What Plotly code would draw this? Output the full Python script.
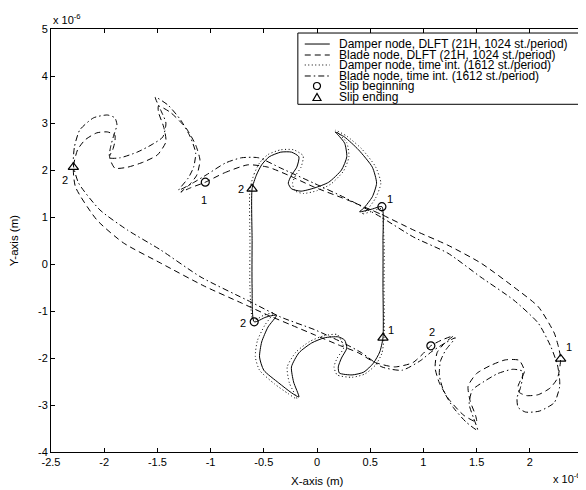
import plotly.graph_objects as go

# ---------------- data (units of 1e-6 m) ----------------
# Damper node, DLFT (solid)
damper_dlft_x = [-0.61, -0.57, -0.52, -0.45, -0.34, -0.24, -0.17, -0.19, -0.24, -0.27, -0.24, -0.15, -0.02,
                 0.11, 0.23, 0.28, 0.26, 0.20, 0.17, 0.26, 0.39, 0.52, 0.56, 0.52, 0.44, 0.40, 0.52, 0.61,
                 0.62, 0.62, 0.62, 0.59, 0.53, 0.44, 0.33, 0.21, 0.20, 0.23, 0.28, 0.26, 0.20, 0.07, -0.05,
                 -0.17, -0.24, -0.22, -0.17, -0.24, -0.36, -0.50, -0.54, -0.52, -0.46, -0.38, -0.48, -0.59,
                 -0.61, -0.61, -0.61]
damper_dlft_y = [1.60, 1.89, 2.11, 2.28, 2.38, 2.38, 2.28, 2.06, 1.89, 1.72, 1.60, 1.55, 1.62,
                 1.74, 2.00, 2.28, 2.57, 2.74, 2.81, 2.70, 2.43, 2.06, 1.72, 1.43, 1.19, 1.11, 1.17, 1.22,
                 0.50, -0.50, -1.57, -1.87, -2.11, -2.30, -2.36, -2.32, -2.19, -2.00, -1.79, -1.62, -1.55, -1.57, -1.68,
                 -1.89, -2.19, -2.51, -2.83, -2.74, -2.53, -2.26, -1.98, -1.66, -1.34, -1.09, -1.13, -1.23,
                 -0.50, 0.50, 1.60]

# Damper node, time integration (dotted)
damper_ti_x = [-0.63, -0.59, -0.54, -0.46, -0.34, -0.22, -0.13, -0.15, -0.20, -0.23, -0.21, -0.13, 0.00,
               0.13, 0.25, 0.30, 0.28, 0.20, 0.17, 0.28, 0.42, 0.55, 0.60, 0.55, 0.47, 0.42, 0.53, 0.60,
               0.63, 0.63, 0.63, 0.61, 0.55, 0.45, 0.33, 0.19, 0.16, 0.19, 0.25, 0.23, 0.19, 0.06, -0.07,
               -0.20, -0.28, -0.26, -0.19, -0.27, -0.40, -0.54, -0.58, -0.56, -0.49, -0.41, -0.50, -0.60,
               -0.63, -0.63, -0.63]
damper_ti_y = [1.60, 1.92, 2.15, 2.33, 2.43, 2.43, 2.30, 2.06, 1.89, 1.72, 1.56, 1.50, 1.56,
               1.70, 1.98, 2.28, 2.58, 2.78, 2.85, 2.72, 2.45, 2.07, 1.72, 1.40, 1.15, 1.06, 1.13, 1.18,
               0.50, -0.50, -1.57, -1.90, -2.15, -2.34, -2.41, -2.36, -2.19, -2.00, -1.79, -1.64, -1.50, -1.53, -1.65,
               -1.88, -2.19, -2.53, -2.87, -2.76, -2.55, -2.26, -1.97, -1.63, -1.30, -1.04, -1.09, -1.20,
               -0.50, 0.50, 1.60]

# Blade node, DLFT (dashed)
blade_dlft_x = [-1.05, -0.87, -0.65, -0.46, -0.27, -0.03, 0.29, 0.60, 0.91, 1.23, 1.54, 1.85, 2.08, 2.23, 2.27, 2.29,
                2.26, 2.19, 2.08, 1.97, 1.90, 1.89, 1.92, 1.95, 1.90, 1.77, 1.63, 1.50, 1.42, 1.44, 1.49, 1.50,
                1.38, 1.24, 1.15, 1.11, 1.13, 1.21, 1.28, 1.17, 1.07,
                1.00, 0.90, 0.73, 0.54, 0.39, 0.20, -0.02, -0.24, -0.46, -0.71, -1.06, -1.47, -1.82, -2.07, -2.27, -2.29,
                -2.25, -2.18, -2.07, -1.97, -1.90, -1.90, -1.92, -1.95, -1.90, -1.78, -1.63, -1.50, -1.42, -1.44, -1.49, -1.49,
                -1.38, -1.23, -1.14, -1.10, -1.13, -1.21, -1.28, -1.19, -1.05]
blade_dlft_y = [1.74, 1.94, 2.11, 2.06, 1.89, 1.64, 1.36, 1.06, 0.72, 0.40, 0.02, -0.49, -0.91, -1.47, -1.77, -2.02,
                -2.43, -2.64, -2.78, -2.80, -2.73, -2.60, -2.44, -2.28, -2.05, -2.04, -2.16, -2.33, -2.60, -2.92, -3.22, -3.36,
                -3.22, -2.88, -2.53, -2.21, -1.88, -1.66, -1.53, -1.62, -1.74,
                -1.90, -2.10, -2.19, -2.09, -1.89, -1.72, -1.51, -1.30, -1.09, -0.83, -0.47, 0.02, 0.45, 0.94, 1.64, 2.06,
                2.43, 2.64, 2.79, 2.81, 2.74, 2.60, 2.43, 2.28, 2.04, 2.06, 2.17, 2.32, 2.60, 2.91, 3.23, 3.36,
                3.23, 2.89, 2.53, 2.21, 1.89, 1.66, 1.53, 1.62, 1.74]

# Blade node, time integration (dash-dot)
blade_ti_x = [-1.30, -1.17, -1.03, -0.86, -0.71, -0.55, -0.34, -0.03, 0.29, 0.60, 0.91, 1.23, 1.54, 1.85, 2.08, 2.20, 2.26,
              2.28, 2.28, 2.23, 2.09, 1.96, 1.89, 1.88, 1.91, 1.93, 1.93, 1.84, 1.70, 1.57, 1.46, 1.43, 1.47, 1.51,
              1.40, 1.28, 1.19, 1.15, 1.16, 1.21, 1.30,
              1.19, 1.08, 0.97, 0.80, 0.61, 0.42, 0.23, -0.02, -0.34, -0.62, -1.09, -1.47, -1.78, -2.04, -2.24, -2.29,
              -2.28, -2.23, -2.10, -1.97, -1.90, -1.88, -1.91, -1.94, -1.95, -1.85, -1.69, -1.56, -1.45, -1.42, -1.47, -1.52,
              -1.40, -1.28, -1.19, -1.14, -1.16, -1.21, -1.30]
blade_ti_y = [1.57, 1.72, 1.91, 2.15, 2.26, 2.26, 2.04, 1.72, 1.38, 1.00, 0.57, 0.23, -0.28, -0.77, -1.26, -1.77, -2.15,
              -2.45, -2.62, -2.95, -3.13, -3.15, -3.05, -2.85, -2.65, -2.45, -2.28, -2.24, -2.33, -2.50, -2.68, -2.98, -3.27, -3.54,
              -3.36, -3.05, -2.70, -2.37, -2.07, -1.83, -1.57,
              -1.70, -1.86, -2.06, -2.26, -2.19, -1.89, -1.66, -1.40, -1.13, -0.81, -0.28, 0.30, 0.72, 1.15, 1.72, 2.11,
              2.49, 2.85, 3.11, 3.17, 3.11, 2.96, 2.74, 2.49, 2.26, 2.26, 2.38, 2.53, 2.70, 3.00, 3.28, 3.55,
              3.38, 3.06, 2.70, 2.36, 2.06, 1.83, 1.57]

# Slip markers
slip_begin_x = [-1.05, 0.61, -0.59, 1.07]
slip_begin_y = [1.74, 1.22, -1.23, -1.74]
slip_end_x = [-2.29, -0.61, 0.62, 2.29]
slip_end_y = [2.06, 1.60, -1.57, -2.02]

# Point number labels
label_text = ["1", "2", "1", "2", "1", "2", "1", "2"]
label_x = [-1.06, -0.71, 0.69, -0.70, 0.70, 1.08, 2.37, -2.37]
label_y = [1.36, 1.60, 1.38, -1.26, -1.40, -1.45, -1.77, 1.79]

x_ticks = [-2.5, -2, -1.5, -1, -0.5, 0, 0.5, 1, 1.5, 2, 2.5]
y_ticks = [-4, -3, -2, -1, 0, 1, 2, 3, 4, 5]

legend_labels = ["Damper node, DLFT (21H, 1024 st./period)",
                 "Blade node, DLFT (21H, 1024 st./period)",
                 "Damper node, time int. (1612 st./period)",
                 "Blade node, time int. (1612 st./period)",
                 "Slip beginning",
                 "Slip ending"]

# ---------------- figure ----------------
FONT = "Liberation Sans, Arial, Helvetica, sans-serif"
DASH = "6px,4px"
DASHDOT = "6px,3px,1.5px,3px"
DOT = "1px,2.5px"

fig = go.Figure()


def add_curve(x, y, dash, width=1.0):
    fig.add_trace(go.Scatter(x=x, y=y, mode="lines",
                             line=dict(color="black", width=width, dash=dash,
                                       shape="spline", smoothing=0.6),
                             showlegend=False, hoverinfo="skip"))


add_curve(damper_ti_x, damper_ti_y, DOT, 1.0)
add_curve(blade_ti_x, blade_ti_y, DASHDOT, 1.0)
add_curve(blade_dlft_x, blade_dlft_y, DASH, 1.0)
add_curve(damper_dlft_x, damper_dlft_y, "solid", 1.0)

fig.add_trace(go.Scatter(x=slip_begin_x, y=slip_begin_y, mode="markers",
                         marker=dict(symbol="circle-open", size=8, color="black", line=dict(width=1.2)),
                         showlegend=False, hoverinfo="skip"))
fig.add_trace(go.Scatter(x=slip_end_x, y=slip_end_y, mode="markers",
                         marker=dict(symbol="triangle-up-open", size=9, color="black", line=dict(width=1.2)),
                         showlegend=False, hoverinfo="skip"))

annotations = []
for t, lx, ly in zip(label_text, label_x, label_y):
    annotations.append(dict(x=lx, y=ly, xref="x", yref="y", text=t, showarrow=False,
                            font=dict(family=FONT, size=11, color="black")))

# axis titles and exponent labels
annotations += [
    dict(x=0.5, y=-0.068, xref="paper", yref="paper", text="X-axis (m)", showarrow=False,
         xanchor="center", yanchor="middle", font=dict(family=FONT, size=11.5, color="black")),
    dict(x=-0.07, y=0.5, xref="paper", yref="paper", text="Y-axis (m)", showarrow=False, textangle=-90,
         xanchor="center", yanchor="middle", font=dict(family=FONT, size=11.5, color="black")),
    dict(x=0.0, y=1.0, xref="paper", yref="paper", text="x 10<sup>-6</sup>", showarrow=False,
         xanchor="left", yanchor="bottom", yshift=1, font=dict(family=FONT, size=11, color="black")),
    dict(x=1.0, y=-0.062, xref="paper", yref="paper", text="x 10<sup>-6</sup>", showarrow=False,
         xanchor="right", yanchor="middle", font=dict(family=FONT, size=11, color="black")),
]

# custom legend box
shapes = [dict(type="rect", xref="paper", yref="paper", x0=0.464, x1=0.996, y0=0.822, y1=0.9905,
               line=dict(color="black", width=1), fillcolor="white", layer="above")]
row_y = [0.9645, 0.9385, 0.9149, 0.8889, 0.8652, 0.8392]
line_dashes = ["solid", DASH, DOT, DASHDOT]
for i, d in enumerate(line_dashes):
    shapes.append(dict(type="line", xref="paper", yref="paper", x0=0.477, x1=0.524, y0=row_y[i], y1=row_y[i],
                       line=dict(color="black", width=1, dash=d), layer="above"))
shapes.append(dict(type="circle", xref="paper", yref="paper", xsizemode="pixel", ysizemode="pixel",
                   xanchor=0.5, yanchor=row_y[4], x0=-3.5, x1=3.5, y0=-3.5, y1=3.5,
                   line=dict(color="black", width=1.2), layer="above"))
shapes.append(dict(type="path", xref="paper", yref="paper", xsizemode="pixel", ysizemode="pixel",
                   xanchor=0.5, yanchor=row_y[5], path="M -4,-3.5 L 4,-3.5 L 0,3.5 Z",
                   line=dict(color="black", width=1.2), layer="above"))
for i, t in enumerate(legend_labels):
    annotations.append(dict(x=0.5376, y=row_y[i], xref="paper", yref="paper", text=t, showarrow=False,
                            xanchor="left", yanchor="middle", font=dict(family=FONT, size=12, color="black")))

axis_common = dict(showline=True, mirror="ticks", linecolor="black", linewidth=1, ticks="inside",
                   ticklen=4, tickcolor="black", showgrid=False, zeroline=False,
                   tickfont=dict(family=FONT, size=11, color="black"))

# the page adds an 8px body margin, so the figure is sized to fit the 586x490 window
fig.update_layout(
    width=578, height=482,
    margin=dict(l=43, r=3, t=21, b=38),
    paper_bgcolor="white", plot_bgcolor="white",
    showlegend=False,
    xaxis=dict(range=[-2.5, 2.5], tickvals=x_ticks, ticktext=[f"{v:g}" for v in x_ticks], **axis_common),
    yaxis=dict(range=[-4, 5], tickvals=y_ticks, ticktext=[f"{v:g}" for v in y_ticks], **axis_common),
    annotations=annotations,
    shapes=shapes,
)

fig.write_html("out.html")
